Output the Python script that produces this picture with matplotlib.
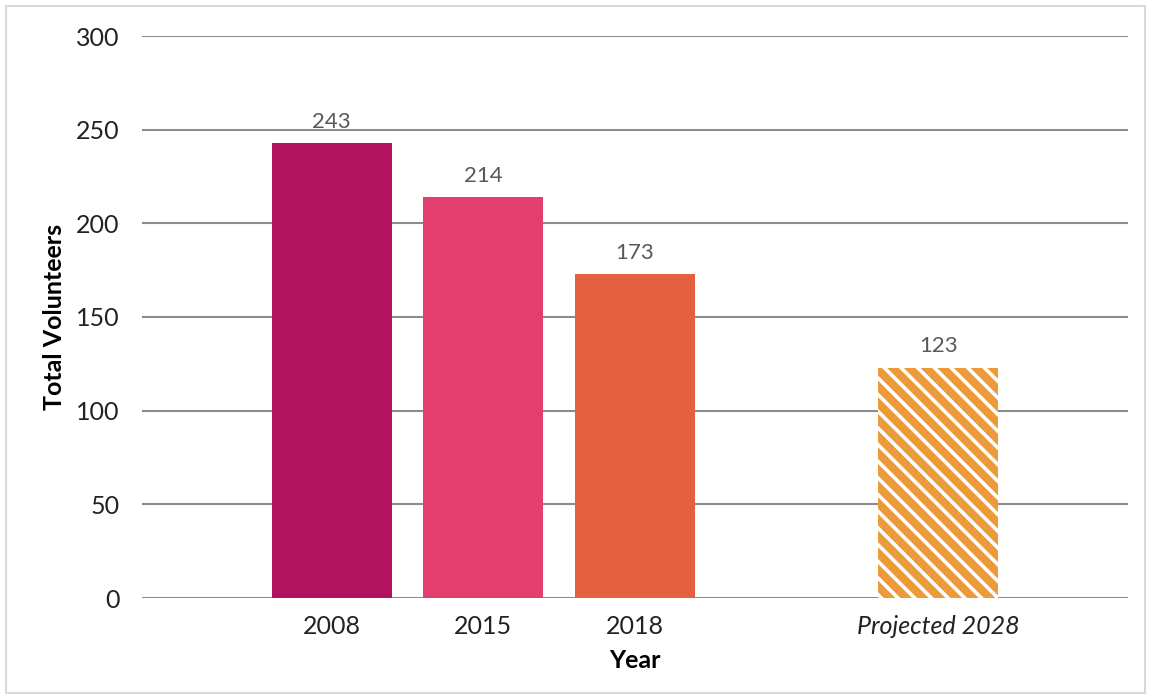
import numpy as np
import matplotlib.pyplot as plt
from matplotlib.patches import Rectangle

plt.rcParams['font.family'] = ['Lato', 'DejaVu Sans']
plt.rcParams['hatch.linewidth'] = 2.6

years = ['2008', '2015', '2018', '', 'Projected 2028']
volunteers = [243, 214, 173, None, 123]
colors = ['#b31261', '#e23e6f', '#e4603e', None, '#ec9a3a']
projected = [False, False, False, False, True]

fig = plt.figure(figsize=(11.51, 6.96), dpi=100)
ax = fig.add_axes([142/1151, 1 - 598/696, (1128-142)/1151, (598-36)/696])

x = np.arange(len(years))
for i, v in enumerate(volunteers):
    if v is None:
        continue
    if projected[i]:
        ax.bar(x[i], v, width=0.79, color=colors[i], edgecolor='white',
               hatch='\\\\', linewidth=0, zorder=3)
    else:
        ax.bar(x[i], v, width=0.79, color=colors[i], linewidth=0, zorder=3)
    ax.annotate(str(v), (x[i], v), xytext=(0, 8), textcoords='offset points',
                ha='center', va='bottom', fontsize=16, color='#595959')

ax.set_ylim(0, 300)
ax.set_xlim(-1.25, 5.25)
ax.set_yticks(range(0, 301, 50))
ax.yaxis.grid(True, color='#8c8c8c', linewidth=1.5, zorder=0)
ax.set_axisbelow(True)
for s in ax.spines.values():
    s.set_visible(False)
ax.tick_params(axis='both', length=0, labelsize=18, colors='#222222', pad=12)
ax.tick_params(axis='y', pad=16)

ticks = [i for i, v in enumerate(volunteers) if v is not None]
ax.set_xticks(ticks)
ax.set_xticklabels([years[i] for i in ticks])
for lbl, p in zip(ax.get_xticklabels(), [projected[i] for i in ticks]):
    if p:
        lbl.set_style('italic')

ax.set_xlabel('Year', fontsize=18, fontweight='bold', labelpad=8)
ax.set_ylabel('Total Volunteers', fontsize=18, fontweight='bold', labelpad=7)

fig.patches.append(Rectangle((6/1151, 0.005), 1 - 12/1151, 1 - 0.014,
                             transform=fig.transFigure, fill=False,
                             edgecolor='#d9d9d9', linewidth=1.5))

fig.savefig('out.png', dpi=100)
